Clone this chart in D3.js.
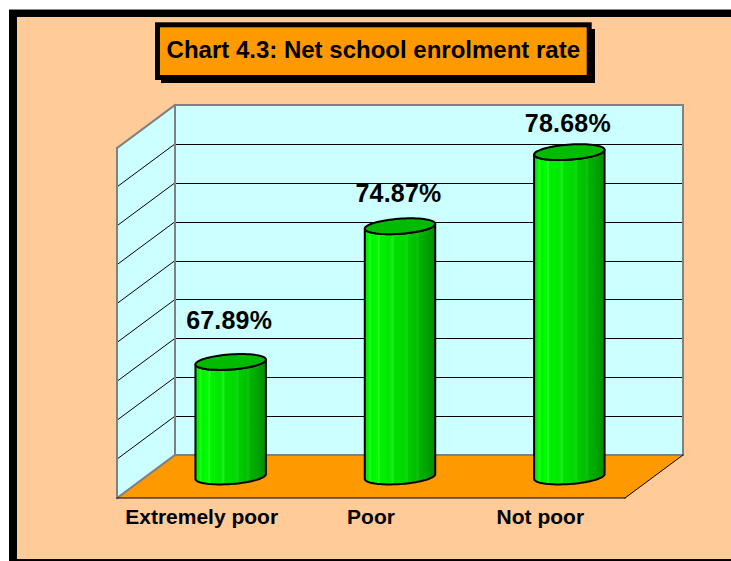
<!DOCTYPE html>
<html>
<head>
<meta charset="utf-8">
<script src="https://cdn.jsdelivr.net/npm/d3@7/dist/d3.min.js"></script>
<style>
  html, body { margin: 0; padding: 0; background: #ffffff; }
  svg { display: block; }
  text { font-family: Arial, "Liberation Sans", sans-serif; font-weight: bold; fill: #000; }
</style>
</head>
<body>
<script>
// Net school enrolment rate by poverty status
const categories = ["Extremely poor", "Poor", "Not poor"];
const rates = [67.89, 74.87, 78.68];
const valueDomain = [62, 80];
const tickStep = 2;
const chartTitle = "Chart 4.3: Net school enrolment rate";

const W = 731, H = 561;
const svg = d3.select("body").append("svg").attr("width", W).attr("height", H);

// outer frame
svg.append("rect").attr("x", 9).attr("y", 9).attr("width", W).attr("height", H).attr("fill", "#000");
svg.append("rect").attr("x", 17).attr("y", 17).attr("width", W).attr("height", 559 - 17).attr("fill", "#FFCC99");
svg.append("line").attr("x1", 9).attr("x2", W).attr("y1", 9.5).attr("y2", 9.5).attr("stroke", "#888").attr("stroke-width", 1);

// title box with drop shadow
svg.append("rect").attr("x", 161).attr("y", 29).attr("width", 434).attr("height", 54).attr("fill", "#000");
svg.append("rect").attr("x", 157.5).attr("y", 24.8).attr("width", 431.7).attr("height", 52.7)
  .attr("fill", "#FF9900").attr("stroke", "#000").attr("stroke-width", 5);
svg.append("text").attr("x", 373.3).attr("y", 58.3).attr("text-anchor", "middle")
  .style("font-size", "24px").text(chartTitle);

// oblique 3D projection: front plane plus a depth offset
const depth = { dx: 58, dy: -43 };
const x = d3.scaleBand().domain(categories).range([117, 625]);
const yFront = d3.scaleLinear().domain(valueDomain).range([498, 148]);
const yBack = v => yFront(v) + depth.dy;
const xBack = px => px + depth.dx;
const ticks = d3.range(valueDomain[0], valueDomain[1] + 0.001, tickStep);
const v0 = valueDomain[0], v1 = valueDomain[1];
const xL = x.range()[0], xR = x.range()[1];

// side wall
svg.append("polygon")
  .attr("points", [[xL, yFront(v0)], [xL, yFront(v1)], [xBack(xL), yBack(v1)], [xBack(xL), yBack(v0)]].join(" "))
  .attr("fill", "#CCFFFF");
// back wall
svg.append("rect").attr("x", xBack(xL)).attr("y", yBack(v1))
  .attr("width", xR - xL).attr("height", yBack(v0) - yBack(v1)).attr("fill", "#CCFFFF");
// floor
svg.append("polygon")
  .attr("points", [[xL, yFront(v0)], [xR, yFront(v0)], [xBack(xR), yBack(v0)], [xBack(xL), yBack(v0)]].join(" "))
  .attr("fill", "#FF9900");

// gridlines on back and side walls
const inner = ticks.filter(t => t > v0 && t < v1);
svg.append("g").selectAll("line").data(inner).join("line")
  .attr("x1", xBack(xL)).attr("x2", xBack(xR))
  .attr("y1", d => Math.round(yBack(d)) + 0.5).attr("y2", d => Math.round(yBack(d)) + 0.5)
  .attr("stroke", "#000").attr("stroke-width", 1);
svg.append("g").selectAll("line").data(inner).join("line")
  .attr("x1", xL).attr("x2", xBack(xL))
  .attr("y1", d => yFront(d)).attr("y2", d => yBack(d))
  .attr("stroke", "#000").attr("stroke-width", 1);

// wall edges
const edge = (a, b, c, w) => svg.append("line").attr("x1", a[0]).attr("y1", a[1]).attr("x2", b[0]).attr("y2", b[1])
  .attr("stroke", c).attr("stroke-width", w).attr("stroke-linecap", "square");
const grey = "#808080";
edge([xL, yFront(v0)], [xL, yFront(v1)], grey, 2);
edge([xL, yFront(v1)], [xBack(xL), yBack(v1)], grey, 2);
edge([xBack(xL), yBack(v1)], [xBack(xR), yBack(v1)], grey, 2);
edge([xBack(xR), yBack(v1)], [xBack(xR), yBack(v0)], grey, 2);
edge([xBack(xL), yBack(v1)], [xBack(xL), yBack(v0)], grey, 2);
edge([xBack(xL), yBack(v0)], [xBack(xR), yBack(v0)], grey, 2);
edge([xL, yFront(v0)], [xBack(xL), yBack(v0)], grey, 2);
edge([xL, yFront(v0)], [xR, yFront(v0)], "#000", 1);
edge([xR, yFront(v0)], [xBack(xR), yBack(v0)], "#000", 1);

// cylinder shading
const defs = svg.append("defs");
const grad = defs.append("linearGradient").attr("id", "cyl").attr("x1", 0).attr("x2", 1).attr("y1", 0).attr("y2", 0);
[[0, "#00E000"], [0.05, "#00F800"], [0.08, "#20FF20"], [0.1, "#00F400"], [0.18, "#00FF00"], [0.2, "#30FF30"],
 [0.22, "#00F000"], [0.35, "#00E800"], [0.4, "#20EE20"], [0.42, "#00E000"], [0.55, "#00D800"], [0.6, "#10D810"],
 [0.62, "#00CC00"], [0.72, "#00C000"], [0.75, "#10C010"], [0.78, "#00B400"], [0.88, "#00A400"], [1, "#008C00"]]
  .forEach(([o, c]) => grad.append("stop").attr("offset", o).attr("stop-color", c));

// cylinder cross-section: circle projected along the depth direction
const dLen = Math.hypot(depth.dx, depth.dy);
const ux = depth.dx / dLen, uy = depth.dy / dLen;
const R = x.bandwidth() * 0.208;     // horizontal half-extent of the cylinder
const b = 13.3;                     // depth radius
const a = Math.sqrt(R * R - (b * ux) * (b * ux));
const tR = Math.atan2(b * ux, a), tL = tR + Math.PI;
const pt = (cx, cy, t) => [cx + a * Math.cos(t) + b * ux * Math.sin(t), cy + b * uy * Math.sin(t)];
const arc = (cx, cy, t0, t1, n = 48) => d3.range(n + 1).map(i => pt(cx, cy, t0 + (t1 - t0) * i / n));

const bars = svg.append("g");
categories.forEach((cat, i) => {
  const v = rates[i];
  const cx = x(cat) + x.bandwidth() / 2 + depth.dx / 2;
  const base = yFront(v0) + depth.dy / 2;
  const top = yFront(v) + depth.dy / 2;
  const body = [
    ...arc(cx, base, tL, tR + 2 * Math.PI),
    ...arc(cx, top, tR + 2 * Math.PI, tL)
  ];
  bars.append("path").attr("d", d3.line()(body) + "Z")
    .attr("fill", "url(#cyl)").attr("stroke", "#000").attr("stroke-width", 2).attr("stroke-linejoin", "round");
  bars.append("path").attr("d", d3.line()(arc(cx, top, 0, 2 * Math.PI, 72)) + "Z")
    .attr("fill", "#00BB00").attr("stroke", "#000").attr("stroke-width", 2);
});

// value labels
const labelY = d3.scaleLinear().domain(valueDomain).range([437, 108]);
const fmt = d3.format(".2f");
svg.append("g").selectAll("text").data(rates).join("text")
  .attr("x", (d, i) => x(categories[i]) + x.bandwidth() / 2 + depth.dx / 2 - 1.5)
  .attr("y", d => labelY(d))
  .attr("text-anchor", "middle").style("font-size", "25px").style("letter-spacing", "0.2px")
  .text(d => fmt(d) + "%");

// category labels
svg.append("g").selectAll("text").data(categories).join("text")
  .attr("x", d => x(d) + x.bandwidth() / 2)
  .attr("y", 524.3)
  .attr("text-anchor", "middle").style("font-size", "21px")
  .text(d => d);
</script>
</body>
</html>
